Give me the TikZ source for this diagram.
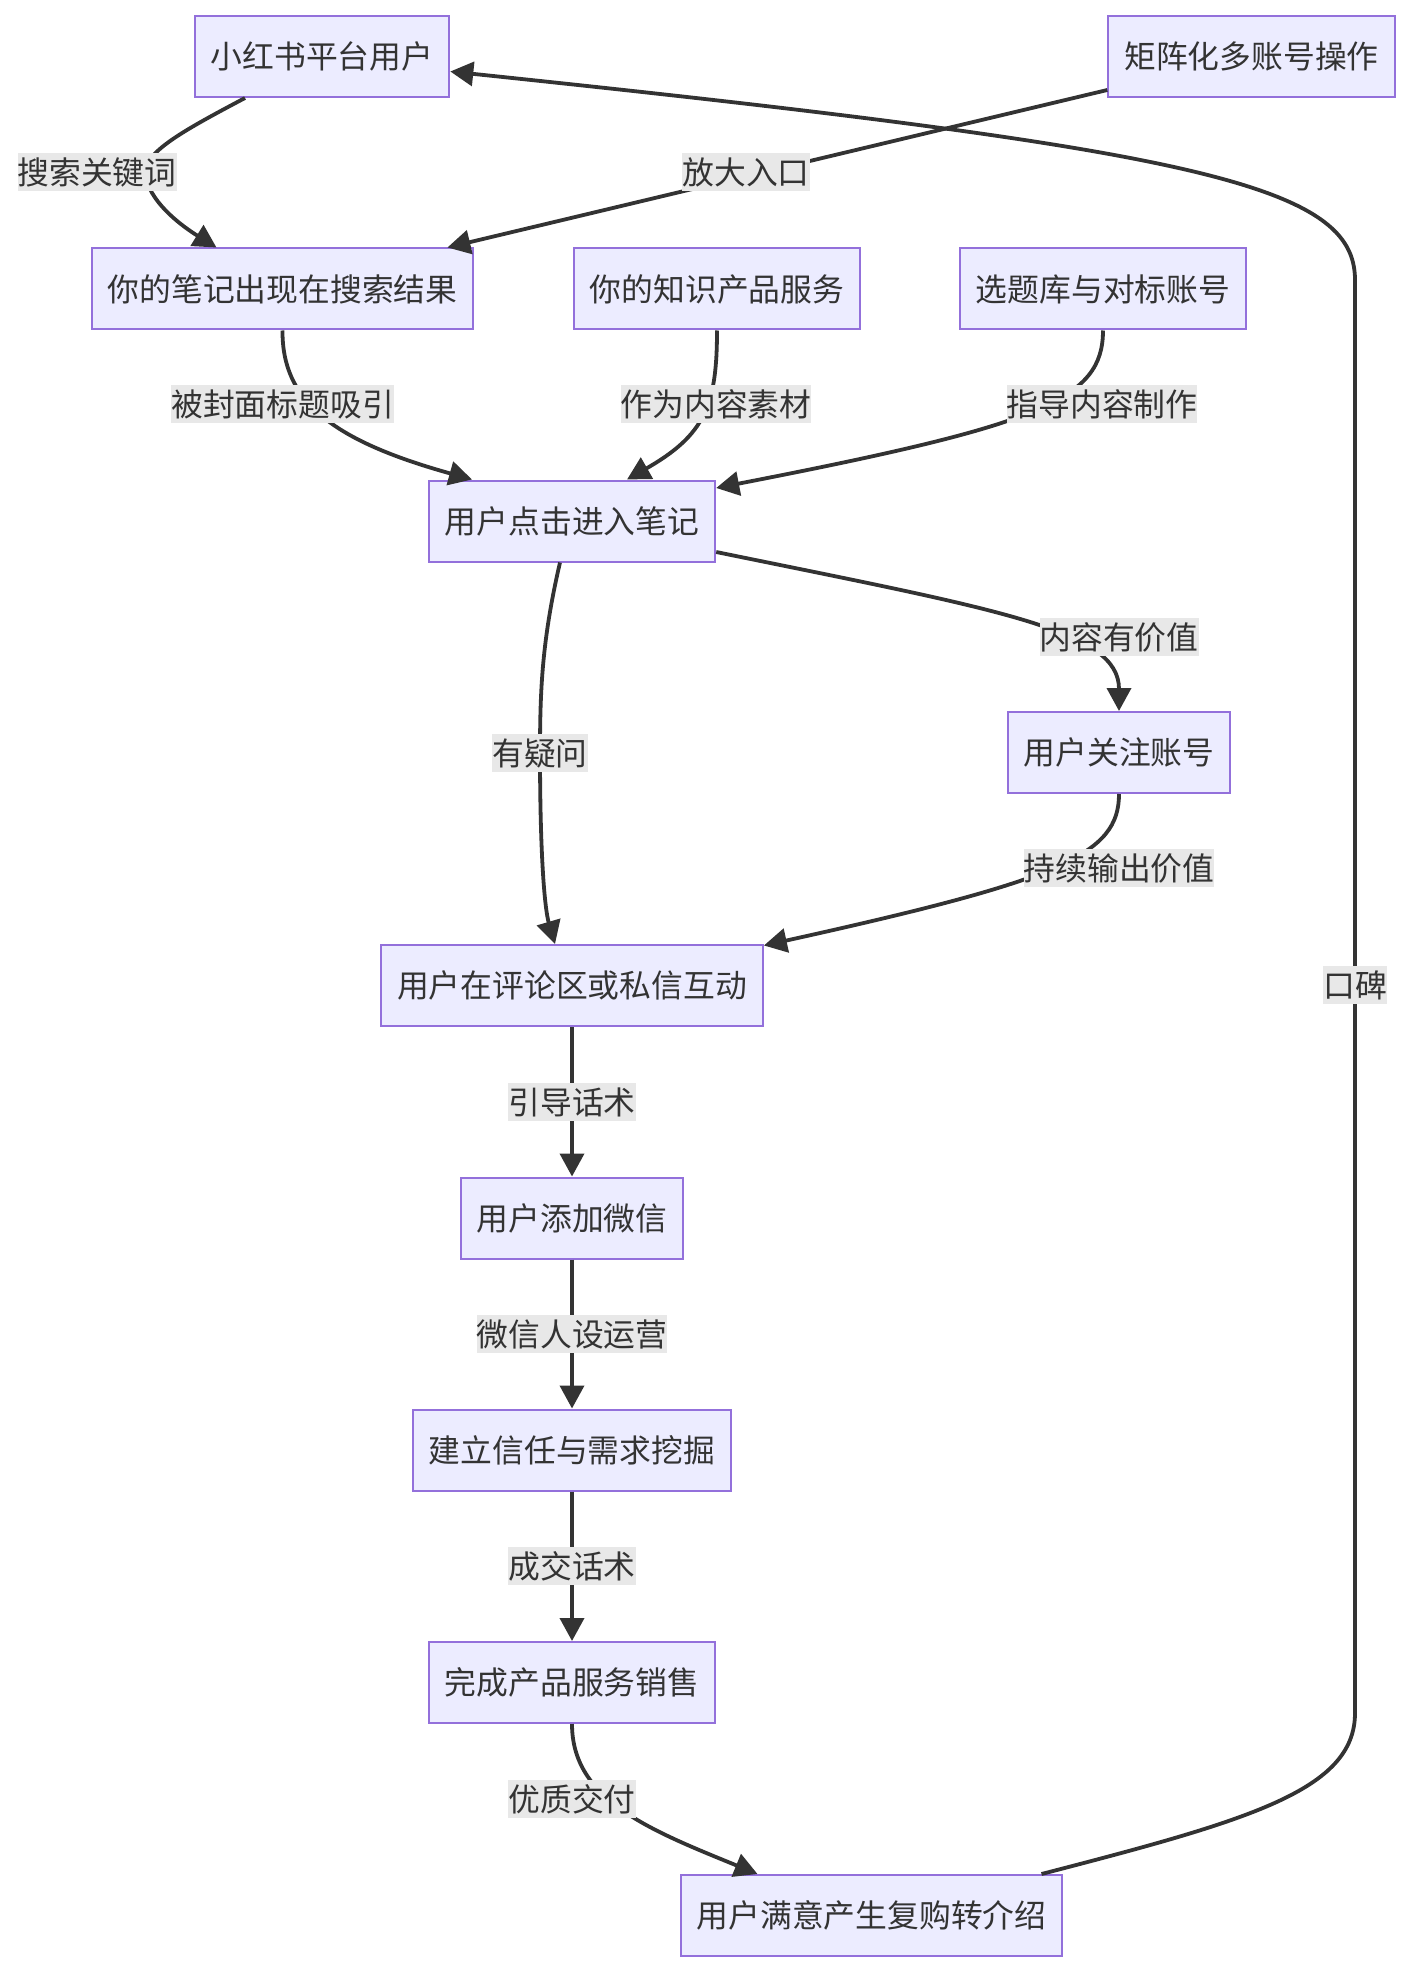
\documentclass[tikz,border=0pt]{standalone}
\usepackage{fontspec}
\setmainfont{Noto Sans CJK SC}
\usetikzlibrary{arrows.meta,calc}
\definecolor{boxfill}{HTML}{ECECFF}
\definecolor{boxborder}{HTML}{9370DB}
\definecolor{edgecol}{HTML}{333333}
\definecolor{lblbg}{HTML}{E8E8E8}
\definecolor{txt}{HTML}{333333}
\begin{document}
\begin{tikzpicture}[
    x=0.5pt, y=-0.5pt,
    font=\fontsize{15.9pt}{19pt}\selectfont,
    box/.style={rectangle, draw=boxborder, fill=boxfill, line width=1pt, text=txt, minimum height=40.5pt, inner xsep=8pt, inner ysep=0pt},
    arrow/.style={-{Triangle[length=11.5pt,width=12pt]}, line width=1.9pt, draw=edgecol},
    edgelabel/.style={fill=lblbg, text=txt, inner sep=0pt, minimum height=19pt}
]
\useasboundingbox (0,0) rectangle (1412,1974);

% Nodes
\node[box] (platform_user) at (322,56.5) {小红书平台用户};
\node[box] (matrix_ops) at (1251.5,56.5) {矩阵化多账号操作};
\node[box] (note_shown) at (282.5,289) {你的笔记出现在搜索结果};
\node[box] (product) at (717,289) {你的知识产品服务};
\node[box] (topic_lib) at (1103,289) {选题库与对标账号};
\node[box] (click_note) at (572,521) {用户点击进入笔记};
\node[box] (follow) at (1119,752.5) {用户关注账号};
\node[box] (interact) at (572,985.5) {用户在评论区或私信互动};
\node[box] (add_wechat) at (572,1218) {用户添加微信};
\node[box] (trust) at (572,1450) {建立信任与需求挖掘};
\node[box] (sale) at (572,1682.5) {完成产品服务销售};
\node[box] (satisfied) at (871.5,1915.5) {用户满意产生复购转介绍};

% Edges
\draw[arrow] ($(platform_user.south)+(-77,0)$) .. controls (175,135) and (140,155) .. (146,178) .. controls (152,205) and (185,228) .. ($(note_shown.north)+(-66,0)$);
\draw[arrow] ($(matrix_ops.south west)+(0,-8)$) -- ($(note_shown.north east)+(-27,0)$);
\draw[arrow] ($(satisfied.north)+(170,0)$) .. controls (1250,1820) and (1355,1790) .. (1355,1713) -- (1355,280) .. controls (1355,185) and (1200,150) .. ($(platform_user.east)+(0,15)$);
\draw[arrow] (note_shown.south) .. controls (282,400) and (330,440) .. ($(click_note.north)+(-100,0)$);
\draw[arrow] (product.south) .. controls (717,405) and (705,435) .. ($(click_note.north)+(55,0)$);
\draw[arrow] (topic_lib.south) .. controls (1103,400) and (1040,425) .. ($(click_note.east)+(0,-33)$);
\draw[arrow] ($(click_note.east)+(0,31)$) .. controls (1000,610) and (1119,630) .. (follow.north);
\draw[arrow] ($(click_note.south)+(-12,0)$) .. controls (542,640) and (540,690) .. (540,753) .. controls (540,860) and (545,910) .. ($(interact.north)+(-17,0)$);
\draw[arrow] (follow.south) .. controls (1119,855) and (1060,880) .. ($(interact.east)+(0,-40)$);
\draw[arrow] (interact) -- (add_wechat);
\draw[arrow] (add_wechat) -- (trust);
\draw[arrow] (trust) -- (sale);
\draw[arrow] (sale.south) .. controls (572,1800) and (650,1830) .. ($(satisfied.north)+(-114,0)$);

% Edge labels
\node[edgelabel] (l_search) at (97,172) {搜索关键词};
\node[edgelabel] (l_amplify) at (746,172) {放大入口};
\node[edgelabel] (l_cover) at (282.5,404) {被封面标题吸引};
\node[edgelabel] (l_material) at (716,404) {作为内容素材};
\node[edgelabel] (l_guide) at (1102,404) {指导内容制作};
\node[edgelabel] (l_valuable) at (1119,637) {内容有价值};
\node[edgelabel] (l_question) at (540,753) {有疑问};
\node[edgelabel] (l_output) at (1119,868) {持续输出价值};
\node[edgelabel] (l_mouth) at (1355,985) {口碑};
\node[edgelabel] (l_guide_talk) at (572,1102) {引导话术};
\node[edgelabel] (l_persona) at (572,1334) {微信人设运营};
\node[edgelabel] (l_deal) at (572,1566) {成交话术};
\node[edgelabel] (l_delivery) at (572,1799) {优质交付};

\end{tikzpicture}
\end{document}
